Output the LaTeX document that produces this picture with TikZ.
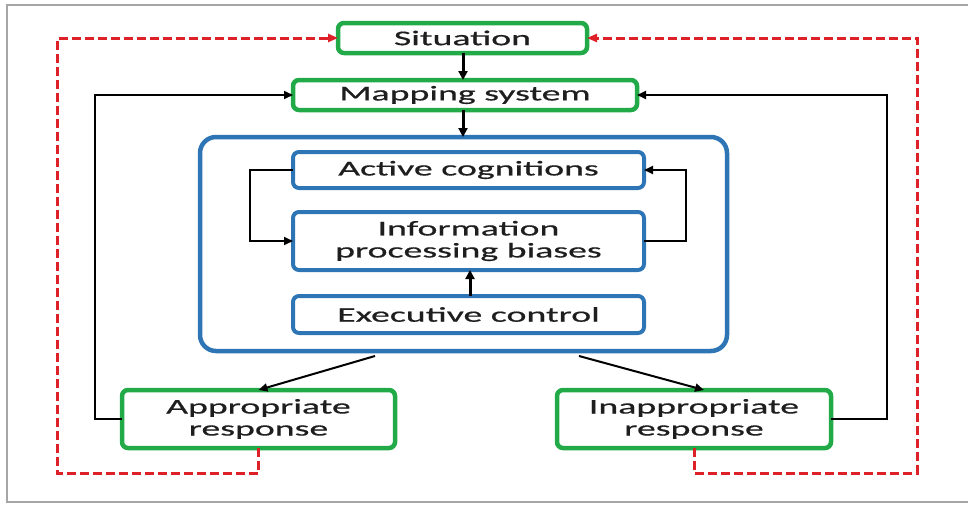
\documentclass[tikz,border=0pt]{standalone}
\usepackage{fontspec}
\setmainfont[FakeStretch=1.8,FakeBold=0.6]{Carlito}
\usetikzlibrary{arrows.meta}
\definecolor{boxgreen}{RGB}{34,170,72}
\definecolor{boxblue}{RGB}{46,117,182}
\definecolor{dashred}{RGB}{222,32,40}
\definecolor{txt}{RGB}{30,30,30}
\begin{document}
\begin{tikzpicture}[x=1pt,y=-1pt,
  base/.style={rectangle,rounded corners=6pt,inner sep=0pt,outer sep=0pt,align=center,
    text=txt,font=\fontsize{21}{22}\selectfont},
  greenbox/.style={base,draw=boxgreen,line width=4.5pt},
  bluebox/.style={base,draw=boxblue,line width=4pt},
  conn/.style={draw=black,line width=2pt,-{Triangle[length=9pt,width=8pt]}},
  thick conn/.style={draw=black,line width=3pt,-{Triangle[length=9pt,width=9pt]}},
  feedback/.style={draw=dashred,line width=3pt,dash pattern=on 9pt off 4pt,-{Triangle[length=10pt,width=8pt]}}]
\useasboundingbox (0,0) rectangle (968,506);
\draw[draw=gray!70,line width=1.5pt] (968,5) -- (7,5) -- (7,502) -- (968,502);

\node[greenbox,minimum width=249pt,minimum height=30pt] (sit) at (462.5,38) {Situation};
\node[greenbox,minimum width=344pt,minimum height=30pt] (map) at (465,95) {Mapping system};
\node[bluebox,rounded corners=16pt,line width=4.5pt,minimum width=527pt,minimum height=214pt] (outer) at (463.5,244) {};
\node[bluebox,minimum width=351pt,minimum height=36pt] (act) at (468.5,170) {Active cognitions};
\node[bluebox,minimum width=351pt,minimum height=58pt] (info) at (468.5,241) {Information\\processing biases};
\node[bluebox,minimum width=351pt,minimum height=37pt] (exec) at (468.5,314.5) {Executive control};
\node[greenbox,minimum width=273pt,minimum height=58pt] (app) at (258.5,419) {Appropriate\\response};
\node[greenbox,minimum width=274pt,minimum height=58pt] (inapp) at (694,419) {Inappropriate\\response};

\draw[thick conn] (sit.south -| 463,0) -- (map.north -| 463,0);
\draw[thick conn] (map.south -| 463,0) -- (outer.north -| 463,0);
\draw[thick conn] (exec.north -| 470,0) -- (info.south -| 470,0);

\draw[conn] (act.west) -- (250,170) -- (250,241) -- (info.west);
\draw[conn] (info.east) -- (686,241) -- (686,170) -- (act.east);

\coordinate (dl) at (375,356);
\coordinate (dr) at (579,356);
\draw[conn] (dl) -- (app.north);
\draw[conn] (dr) -- (inapp.north -| 704,0);

\draw[conn] (app.west) -- (95,419) -- (95,95) -- (map.west);
\draw[conn] (inapp.east) -- (887,419) -- (887,95) -- (map.east);

\draw[feedback] (app.south) -- (258.5,473) -- (57,473) -- (57,38) -- (sit.west);
\draw[feedback] (inapp.south) -- (694,473) -- (917,473) -- (917,38) -- (sit.east);
\end{tikzpicture}
\end{document}
